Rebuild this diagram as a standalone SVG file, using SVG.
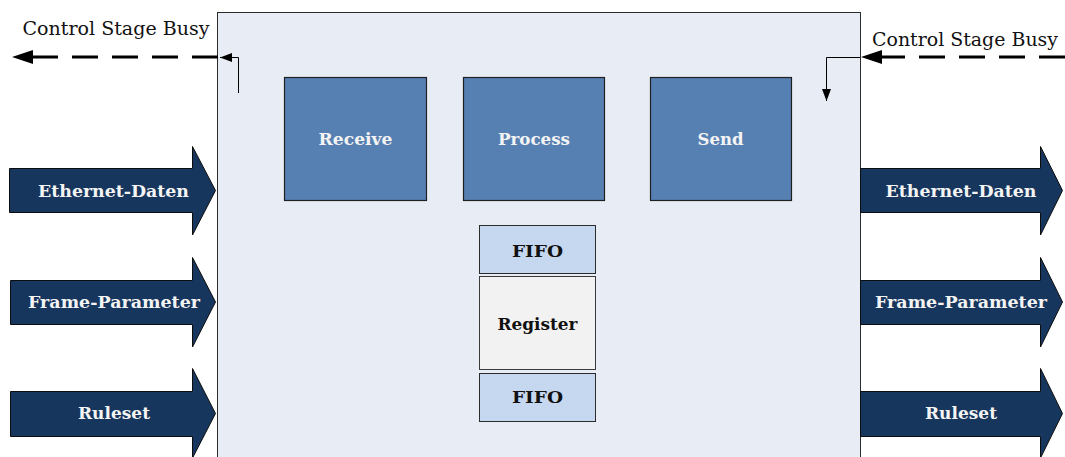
<svg xmlns="http://www.w3.org/2000/svg" width="1065" height="457" viewBox="0 0 1065 457">
  <style>
    .stage { fill: #e8edf5; stroke: #2b2b2b; stroke-width: 1; }
    .block { fill: #5780b2; stroke: #1f1f1f; stroke-width: 1.2; }
    .fifo { fill: #c6d8ef; stroke: #2b2b2b; stroke-width: 1; }
    .reg { fill: #f2f2f2; stroke: #3a3a3a; stroke-width: 1; }
    .flow { fill: #17365d; stroke: #0d0d0d; stroke-width: 1; }
    text { font-family: 'DejaVu Serif', 'Liberation Serif', serif; }
    .lbl-w { font-weight: bold; fill: #f4f4f4; text-anchor: middle; }
    .lbl-b { font-weight: bold; fill: #111; text-anchor: middle; }
    .note { fill: #111; font-size: 18px; }
    .busy { fill: none; stroke: #000; stroke-width: 3.2; stroke-dasharray: 26 14; }
    .thin { fill: none; stroke: #000; stroke-width: 1; }
  </style>
  <defs>
    <marker id="bigHead" markerUnits="userSpaceOnUse" markerWidth="22" markerHeight="14" refX="0" refY="7" orient="auto">
      <path d="M0,0 L21,7 L0,14 z" fill="#000"/>
    </marker>
    <marker id="smallHead" markerUnits="userSpaceOnUse" markerWidth="13" markerHeight="10" refX="12" refY="5" orient="auto">
      <path d="M0,0.5 L12,5 L0,9.5 z" fill="#000"/>
    </marker>
  </defs>

  <!-- stage container -->
  <g id="stage">
    <rect class="stage" x="217.5" y="12.5" width="643" height="460"/>
  </g>

  <!-- processing blocks -->
  <g id="receive">
    <rect class="block" x="284.5" y="77.5" width="142" height="123"/>
    <text class="lbl-w" x="355.5" y="145" font-size="17" textLength="74" lengthAdjust="spacingAndGlyphs">Receive</text>
  </g>
  <g id="process">
    <rect class="block" x="463.5" y="77.5" width="141" height="123"/>
    <text class="lbl-w" x="534" y="145" font-size="17" textLength="72" lengthAdjust="spacingAndGlyphs">Process</text>
  </g>
  <g id="send">
    <rect class="block" x="650.5" y="77.5" width="141" height="123"/>
    <text class="lbl-w" x="720.5" y="145" font-size="17" textLength="46" lengthAdjust="spacingAndGlyphs">Send</text>
  </g>

  <!-- buffers -->
  <g id="fifo-top">
    <rect class="fifo" x="479.5" y="225.5" width="116" height="48"/>
    <text class="lbl-b" x="537.5" y="256.5" font-size="17" textLength="51" lengthAdjust="spacingAndGlyphs">FIFO</text>
  </g>
  <g id="register">
    <rect class="reg" x="479.5" y="276.5" width="116" height="93"/>
    <text class="lbl-b" x="537.5" y="330" font-size="17" textLength="80" lengthAdjust="spacingAndGlyphs">Register</text>
  </g>
  <g id="fifo-bottom">
    <rect class="fifo" x="479.5" y="373.5" width="116" height="48"/>
    <text class="lbl-b" x="537.5" y="403" font-size="17" textLength="51" lengthAdjust="spacingAndGlyphs">FIFO</text>
  </g>

  <!-- input flows -->
  <g id="in-ethernet">
    <path class="flow" d="M9.5,168.5 H192.5 V146.5 L215.5,190.5 L192.5,235 V212.5 H9.5 z"/>
    <text class="lbl-w" x="113.5" y="197" font-size="17" textLength="151" lengthAdjust="spacingAndGlyphs">Ethernet-Daten</text>
  </g>
  <g id="in-frame">
    <path class="flow" d="M10.5,280.5 H192.5 V257.5 L215.5,302 L192.5,347 V324.5 H10.5 z"/>
    <text class="lbl-w" x="114" y="308" font-size="17" textLength="172" lengthAdjust="spacingAndGlyphs">Frame-Parameter</text>
  </g>
  <g id="in-ruleset">
    <path class="flow" d="M10.5,391.5 H192.5 V368.5 L215.5,413.5 L192.5,458 V436.5 H10.5 z"/>
    <text class="lbl-w" x="114" y="419" font-size="17" textLength="72" lengthAdjust="spacingAndGlyphs">Ruleset</text>
  </g>

  <!-- output flows -->
  <g id="out-ethernet">
    <path class="flow" d="M860.5,168.5 H1040.5 V146.5 L1062.5,190.5 L1040.5,235 V212.5 H860.5 z"/>
    <text class="lbl-w" x="961" y="197" font-size="17" textLength="151" lengthAdjust="spacingAndGlyphs">Ethernet-Daten</text>
  </g>
  <g id="out-frame">
    <path class="flow" d="M860.5,280.5 H1040.5 V257.5 L1062.5,302 L1040.5,347 V324.5 H860.5 z"/>
    <text class="lbl-w" x="961" y="308" font-size="17" textLength="172" lengthAdjust="spacingAndGlyphs">Frame-Parameter</text>
  </g>
  <g id="out-ruleset">
    <path class="flow" d="M860.5,391.5 H1040.5 V368.5 L1062.5,413.5 L1040.5,458 V436.5 H860.5 z"/>
    <text class="lbl-w" x="961" y="419" font-size="17" textLength="72" lengthAdjust="spacingAndGlyphs">Ruleset</text>
  </g>

  <!-- busy signalling -->
  <g id="connectors">
    <path class="busy" d="M218,57 H33" marker-end="url(#bigHead)"/>
    <path class="thin" d="M238.5,93 V57.5 H220" marker-end="url(#smallHead)"/>
    <path class="busy" d="M1065,57 H882" marker-end="url(#bigHead)"/>
    <path class="thin" d="M860,57.5 H826.5 V101" marker-end="url(#smallHead)"/>
  </g>

  <g id="busy-labels">
    <text class="note" x="22.5" y="35" textLength="187" lengthAdjust="spacingAndGlyphs">Control Stage Busy</text>
    <text class="note" x="872" y="46" textLength="186" lengthAdjust="spacingAndGlyphs">Control Stage Busy</text>
  </g>
</svg>
